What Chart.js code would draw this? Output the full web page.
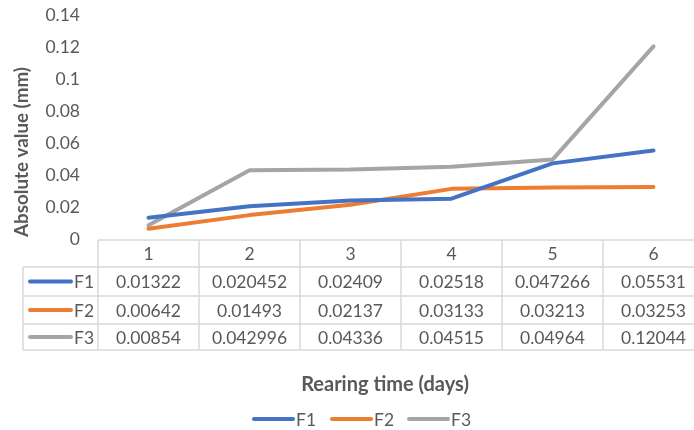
<!DOCTYPE html>
<html>
<head>
<meta charset="utf-8">
<script src="https://cdn.jsdelivr.net/npm/chart.js@4/dist/chart.umd.min.js"></script>
<style>
  html, body { margin: 0; padding: 0; background: #fff; overflow: hidden; }
  #wrap { width: 710px; height: 430px; }
</style>
</head>
<body>
<div id="wrap"><canvas id="c" width="710" height="430"></canvas></div>
<script>
// Rearing days (categories)
const days = ['1', '2', '3', '4', '5', '6'];
// Absolute value (mm) per series
const f1 = [0.01322, 0.020452, 0.02409, 0.02518, 0.047266, 0.05531];
const f2 = [0.00642, 0.01493, 0.02137, 0.03133, 0.03213, 0.03253];
const f3 = [0.00854, 0.042996, 0.04336, 0.04515, 0.04964, 0.12044];
const seriesNames = ['F1', 'F2', 'F3'];
const seriesColors = ['#4472C4', '#ED7D31', '#A5A5A5'];
const yTicks = [0, 0.02, 0.04, 0.06, 0.08, 0.1, 0.12, 0.14];

const FONT = 'Lato, "Open Sans", sans-serif';
const TEXT = '#595959';
const GRID = '#d9d9d9';
const BODY_SIZE = 17.5;
const TITLE_SIZE = 20;
const Y_TITLE_SIZE = 18.8;

const seriesValues = [f1, f2, f3];

// Data table beneath the plot, aligned to the category scale, plus axis titles and legend
const tablePlugin = {
  id: 'dataTable',
  afterDraw(chart) {
    const ctx = chart.ctx;
    const xs = chart.scales.x;
    const area = chart.chartArea;
    const n = days.length;
    const colW = (area.right - area.left) / n;
    const top = area.bottom + 1;
    const rowH = [27, 29, 28, 26];
    const rowsY = [top];
    rowH.forEach(h => rowsY.push(rowsY[rowsY.length - 1] + h));
    const legendLeft = 23;

    ctx.save();
    ctx.strokeStyle = GRID;
    ctx.lineWidth = 1.5;
    // horizontal rules
    ctx.beginPath();
    ctx.moveTo(area.left, rowsY[0]); ctx.lineTo(area.right, rowsY[0]);
    for (let r = 1; r < rowsY.length; r++) {
      ctx.moveTo(legendLeft, rowsY[r]); ctx.lineTo(area.right, rowsY[r]);
    }
    // vertical rules
    ctx.moveTo(legendLeft, rowsY[1]); ctx.lineTo(legendLeft, rowsY[4]);
    for (let i = 0; i <= n; i++) {
      const x = area.left + i * colW;
      ctx.moveTo(x, rowsY[0]); ctx.lineTo(x, rowsY[4]);
    }
    ctx.stroke();

    ctx.fillStyle = TEXT;
    ctx.font = BODY_SIZE + 'px ' + FONT;
    ctx.textAlign = 'center';
    ctx.textBaseline = 'middle';
    days.forEach((d, i) => {
      const cx = xs.getPixelForValue(i);
      ctx.fillText(d, cx, (rowsY[0] + rowsY[1]) / 2 + 1);
      seriesValues.forEach((vals, s) => {
        ctx.fillText(String(vals[i]), cx, (rowsY[s + 1] + rowsY[s + 2]) / 2 + 1);
      });
    });

    // series keys in the table's first column
    seriesNames.forEach((name, s) => {
      const cy = (rowsY[s + 1] + rowsY[s + 2]) / 2;
      ctx.strokeStyle = seriesColors[s];
      ctx.lineWidth = 4;
      ctx.lineCap = 'round';
      ctx.beginPath();
      ctx.moveTo(30, cy); ctx.lineTo(71, cy);
      ctx.stroke();
      ctx.textAlign = 'left';
      ctx.fillText(name, 74, cy + 1);
    });

    // axis titles
    ctx.font = 'bold ' + TITLE_SIZE + 'px ' + FONT;
    ctx.textAlign = 'center';
    ctx.fillText('Rearing time (days)', 385, 385);
    ctx.font = 'bold ' + Y_TITLE_SIZE + 'px ' + FONT;
    ctx.save();
    ctx.translate(22, 152);
    ctx.rotate(-Math.PI / 2);
    ctx.fillText('Absolute value (mm)', 0, 0);
    ctx.restore();

    // legend
    ctx.font = BODY_SIZE + 'px ' + FONT;
    const legendItems = [252, 330, 407];
    seriesNames.forEach((name, s) => {
      const lx = legendItems[s];
      const ly = 419;
      ctx.strokeStyle = seriesColors[s];
      ctx.lineWidth = 4;
      ctx.lineCap = 'round';
      ctx.beginPath();
      ctx.moveTo(lx + 2, ly); ctx.lineTo(lx + 41, ly);
      ctx.stroke();
      ctx.textAlign = 'left';
      ctx.fillText(name, lx + 44, ly + 1);
    });
    ctx.restore();
  }
};

new Chart(document.getElementById('c'), {
  type: 'line',
  data: {
    labels: days,
    datasets: seriesNames.map((name, s) => ({
      label: name,
      data: seriesValues[s],
      borderColor: seriesColors[s],
      backgroundColor: seriesColors[s],
      borderWidth: 4,
      borderCapStyle: 'round',
      borderJoinStyle: 'round',
      pointRadius: 0,
      tension: 0,
      fill: false
    }))
  },
  options: {
    responsive: false,
    animation: false,
    devicePixelRatio: 1,
    layout: { padding: { left: 0, top: 15, right: 6, bottom: 191 } },
    plugins: { legend: { display: false }, tooltip: { enabled: false } },
    scales: {
      x: {
        type: 'category',
        offset: true,
        display: false
      },
      y: {
        min: 0,
        max: 0.14,
        afterFit(scale) {
          scale.width = 98;
          scale.paddingTop = 0;
          scale.paddingBottom = 0;
        },
        afterBuildTicks(scale) { scale.ticks = yTicks.map(v => ({ value: v })); },
        grid: { display: false, drawTicks: false },
        border: { display: false },
        ticks: {
          padding: 18,
          color: TEXT,
          font: { family: FONT, size: BODY_SIZE },
          callback: v => String(+v.toFixed(2))
        }
      }
    }
  },
  plugins: [tablePlugin]
});
</script>
</body>
</html>
